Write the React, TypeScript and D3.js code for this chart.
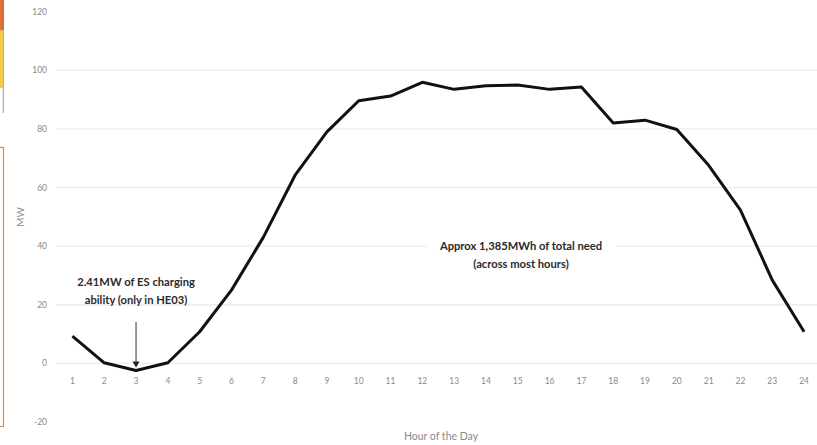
import React from "react";
import * as d3 from "d3";

// Hourly net need (MW) for hours ending 1..24
const hours: number[] = [1, 2, 3, 4, 5, 6, 7, 8, 9, 10, 11, 12, 13, 14, 15, 16, 17, 18, 19, 20, 21, 22, 23, 24];
const needMW: number[] = [9.3, 0.2, -2.41, 0.2, 10.8, 25, 43, 64.2, 79, 89.6, 91.2, 95.9, 93.5, 94.7, 95, 93.5, 94.3, 82, 83, 79.8, 67.6, 52.3, 28.4, 10.8];
const yTicks: number[] = [-20, 0, 20, 40, 60, 80, 100, 120];
const gridValues: number[] = [0, 20, 40, 60, 80, 100];

const W = 817;
const H = 445;

export default function App() {
  const x = d3.scaleBand<number>().domain(hours).range([56.5, 820]);
  const y = d3.scaleLinear().domain([-20, 120]).range([422, 11.7]);
  const cx = (h: number) => (x(h) as number) + x.bandwidth() / 2;

  const line = d3
    .line<number>()
    .x((_, i) => cx(hours[i]))
    .y((d) => y(d));

  const minHour = 3;
  const minVal = needMW[hours.indexOf(minHour)];
  const arrowX = cx(minHour);
  const arrowTip = y(minVal) - 3;

  const font = "Lato, 'Open Sans', sans-serif";

  return (
    <svg
      width={W}
      height={H}
      style={{ position: "absolute", left: 0, top: 0, background: "#fff" }}
      fontFamily={font}
    >
      <rect width={W} height={H} fill="#fff" />

      {/* neighbouring panel edges */}
      <rect x={-4} y={0} width={7.5} height={30} fill="#e2703f" stroke="#c9552e" strokeWidth={0.8} />
      <rect x={-4} y={30} width={7.5} height={57} fill="#f3cc4a" stroke="#c9a43a" strokeWidth={0.8} />
      <line x1={3.3} x2={3.3} y1={87} y2={113} stroke="#9a9a9a" strokeWidth={1} />
      <rect x={-4} y={147.5} width={7.5} height={279} fill="none" stroke="#e8854d" strokeWidth={1.2} />

      {/* gridlines */}
      {gridValues.map((v) => (
        <line key={v} x1={56.5} x2={W} y1={y(v)} y2={y(v)} stroke="#ececec" strokeWidth={1.3} />
      ))}

      {/* y tick labels */}
      {yTicks.map((v) => (
        <text key={v} x={47} y={y(v)} dy="0.35em" textAnchor="end" fontSize={8.5} fill="#8a8a8a">
          {v}
        </text>
      ))}

      {/* x tick labels */}
      {hours.map((h) => (
        <text key={h} x={cx(h)} y={381} dy="0.35em" textAnchor="middle" fontSize={8.5} fill="#8a8a8a">
          {h}
        </text>
      ))}

      {/* axis titles */}
      <text
        transform={`translate(24,${y(50)}) rotate(-90)`}
        textAnchor="middle"
        fontSize={10}
        fill="#8a8a8a"
      >
        MW
      </text>
      <text x={441} y={436} dy="0.35em" textAnchor="middle" fontSize={10.5} fill="#8a8a8a">
        Hour of the Day
      </text>

      {/* net need line */}
      <path d={line(needMW) ?? ""} fill="none" stroke="#111" strokeWidth={3} strokeLinejoin="round" />

      {/* annotation: charging ability in HE03 */}
      <text x={arrowX} y={282} dy="0.35em" textAnchor="middle" fontSize={11.2} fontWeight={700} fill="#2a2a2a">
        2.41MW of ES charging
      </text>
      <text x={arrowX} y={300} dy="0.35em" textAnchor="middle" fontSize={11.2} fontWeight={700} fill="#2a2a2a">
        ability (only in HE03)
      </text>
      <line x1={arrowX} x2={arrowX} y1={322} y2={arrowTip - 5} stroke="#333" strokeWidth={1} />
      <path
        d={`M${arrowX - 3.5},${arrowTip - 6} L${arrowX + 3.5},${arrowTip - 6} L${arrowX},${arrowTip} Z`}
        fill="#222"
      />

      {/* annotation: total need */}
      <rect x={427} y={y(40) - 3} width={190} height={6} fill="#fff" />
      <text x={521} y={246} dy="0.35em" textAnchor="middle" fontSize={11.2} fontWeight={700} fill="#2a2a2a">
        Approx 1,385MWh of total need
      </text>
      <text x={521} y={264} dy="0.35em" textAnchor="middle" fontSize={11.2} fontWeight={700} fill="#2a2a2a">
        (across most hours)
      </text>
    </svg>
  );
}
